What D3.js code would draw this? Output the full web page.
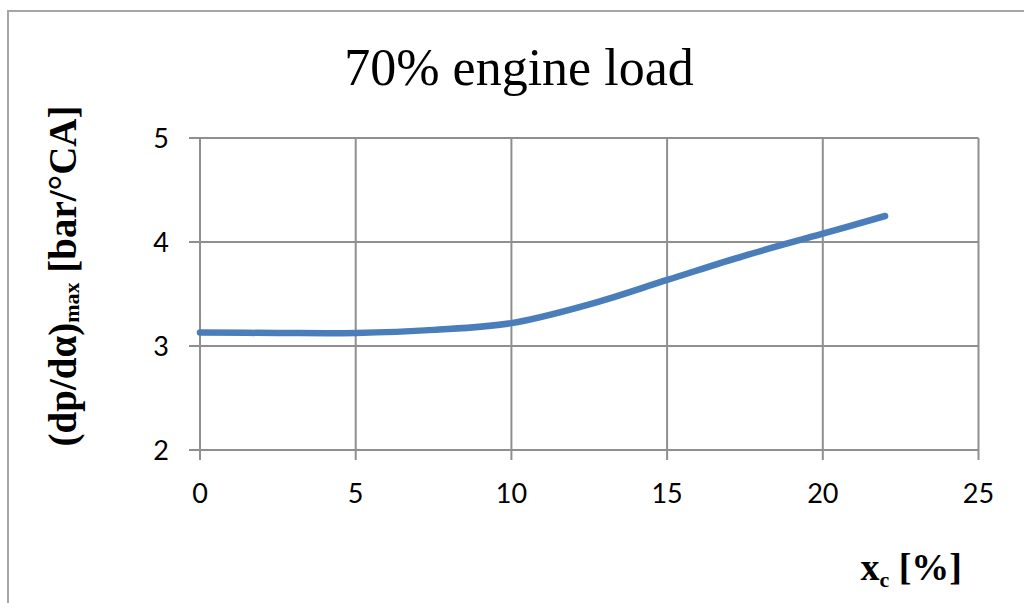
<!DOCTYPE html>
<html>
<head>
<meta charset="utf-8">
<script src="https://cdn.jsdelivr.net/npm/d3@7"></script>
<style>
  html, body { margin: 0; padding: 0; background: #fff; }
  svg { display: block; }
</style>
</head>
<body>
<script>
// Peak pressure rise rate vs. charge fraction at 70% engine load
const xcPercent = [0, 2.5, 5, 7.5, 10, 12.5, 15, 17.5, 20, 22];
const dpdaMax   = [3.13, 3.125, 3.125, 3.155, 3.22, 3.40, 3.635, 3.87, 4.08, 4.25];
const xTicks = [0, 5, 10, 15, 20, 25];
const yTicks = [2, 3, 4, 5];

const W = 1024, H = 603;
const svg = d3.select("body").append("svg").attr("width", W).attr("height", H);

// Chart frame
svg.append("rect")
  .attr("x", 8).attr("y", 11).attr("width", W + 10).attr("height", H + 10)
  .attr("fill", "none").attr("stroke", "#a6a6a6").attr("stroke-width", 2);

const x = d3.scaleLinear().domain([0, 25]).range([200, 978.5]);
const y = d3.scaleLinear().domain([2, 5]).range([450, 138]);

const gridColor = "#8f8f8f";

// Gridlines
svg.append("g").selectAll("line").data(xTicks).join("line")
  .attr("x1", d => x(d)).attr("x2", d => x(d))
  .attr("y1", y(5)).attr("y2", y(2) + 10)
  .attr("stroke", gridColor).attr("stroke-width", 2);
svg.append("g").selectAll("line").data(yTicks).join("line")
  .attr("x1", x(0) - 11).attr("x2", x(25))
  .attr("y1", d => y(d)).attr("y2", d => y(d))
  .attr("stroke", gridColor).attr("stroke-width", 2);

// Tick labels
const tickFont = "Lato, 'Open Sans', sans-serif";
svg.append("g").selectAll("text").data(xTicks).join("text")
  .attr("x", d => x(d)).attr("y", 503)
  .attr("text-anchor", "middle")
  .attr("font-family", tickFont).attr("font-size", 27).attr("fill", "#000")
  .text(d => d);
svg.append("g").selectAll("text").data(yTicks).join("text")
  .attr("x", 169).attr("y", d => y(d))
  .attr("dy", "0.36em")
  .attr("text-anchor", "end")
  .attr("font-family", tickFont).attr("font-size", 27).attr("fill", "#000")
  .text(d => d);

// Data curve
const line = d3.line()
  .x((d, i) => x(xcPercent[i]))
  .y(d => y(d))
  .curve(d3.curveCatmullRom.alpha(0.5));
svg.append("path")
  .datum(dpdaMax)
  .attr("d", line)
  .attr("fill", "none")
  .attr("stroke", "#4a7ebb")
  .attr("stroke-width", 6.5)
  .attr("stroke-linecap", "round")
  .attr("stroke-linejoin", "round");

// Title
const serif = "'Liberation Serif', 'Times New Roman', serif";
svg.append("text")
  .attr("x", 519).attr("y", 85)
  .attr("text-anchor", "middle")
  .attr("font-family", serif).attr("font-size", 52).attr("fill", "#000")
  .text("70% engine load");

// Y axis title
const yTitle = svg.append("text")
  .attr("transform", "translate(76,276) rotate(-90)")
  .attr("text-anchor", "middle")
  .attr("font-family", serif).attr("font-weight", "bold")
  .attr("font-size", 39).attr("fill", "#000");
yTitle.append("tspan").text("(dp/dα)");
yTitle.append("tspan").attr("font-size", 22).attr("dy", 3).text("max");
yTitle.append("tspan").attr("dy", -3).text(" [bar/°CA]");

// X axis title
const xTitle = svg.append("text")
  .attr("x", 962).attr("y", 580)
  .attr("text-anchor", "end")
  .attr("font-family", serif).attr("font-weight", "bold")
  .attr("font-size", 38).attr("fill", "#000");
xTitle.append("tspan").text("x");
xTitle.append("tspan").attr("font-size", 22).attr("dy", 7).text("c");
xTitle.append("tspan").attr("dy", -7).text(" [%]");
</script>
</body>
</html>
